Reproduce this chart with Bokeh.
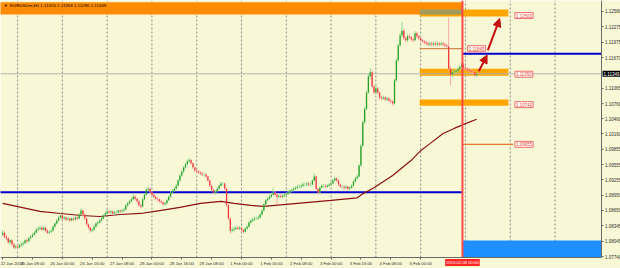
from bokeh.plotting import figure
from bokeh.models import (Range1d, FixedTicker, PrintfTickFormatter, Label, Arrow,
                          NormalHead, ColumnDataSource)
from bokeh.embed import file_html
from bokeh.resources import INLINE

# ---------------- data (EURUSDm H1) ----------------
FIRST_OPEN = 1.0817
CLOSES = [
    1.0821, 1.0813, 1.0810, 1.0802, 1.0806, 1.0798, 1.0792, 1.0794, 1.0792, 1.0796,
    1.0798, 1.0800, 1.0806, 1.0804, 1.0810, 1.0813, 1.0817, 1.0821, 1.0827, 1.0829,
    1.0831, 1.0827, 1.0831, 1.0825, 1.0821, 1.0823, 1.0825, 1.0833, 1.0839, 1.0845,
    1.0851, 1.0855, 1.0849, 1.0851, 1.0847, 1.0849, 1.0845, 1.0849, 1.0847, 1.0851,
    1.0849, 1.0857, 1.0865, 1.0857, 1.0849, 1.0837, 1.0831, 1.0825, 1.0827, 1.0833,
    1.0839, 1.0841, 1.0845, 1.0849, 1.0855, 1.0859, 1.0863, 1.0861, 1.0863, 1.0859,
    1.0861, 1.0861, 1.0865, 1.0863, 1.0865, 1.0867, 1.0875, 1.0879, 1.0883, 1.0887,
    1.0892, 1.0888, 1.0883, 1.0875, 1.0873, 1.0887, 1.0896, 1.0906, 1.0908, 1.0902,
    1.0896, 1.0892, 1.0888, 1.0887, 1.0883, 1.0881, 1.0877, 1.0879, 1.0885, 1.0892,
    1.0900, 1.0904, 1.0908, 1.0914, 1.0924, 1.0934, 1.0942, 1.0950, 1.0956, 1.0962,
    1.0964, 1.0958, 1.0950, 1.0944, 1.0942, 1.0940, 1.0938, 1.0936, 1.0936, 1.0932,
    1.0924, 1.0914, 1.0906, 1.0900, 1.0902, 1.0908, 1.0914, 1.0918, 1.0918, 1.0908,
    1.0875, 1.0849, 1.0825, 1.0827, 1.0829, 1.0831, 1.0829, 1.0831, 1.0827, 1.0823,
    1.0829, 1.0833, 1.0841, 1.0845, 1.0847, 1.0849, 1.0849, 1.0851, 1.0857, 1.0865,
    1.0877, 1.0885, 1.0888, 1.0892, 1.0896, 1.0900, 1.0896, 1.0892, 1.0894, 1.0892,
    1.0894, 1.0896, 1.0898, 1.0900, 1.0904, 1.0906, 1.0908, 1.0910, 1.0912, 1.0912,
    1.0914, 1.0916, 1.0916, 1.0918, 1.0916, 1.0916, 1.0924, 1.0932, 1.0908, 1.0900,
    1.0910, 1.0914, 1.0914, 1.0912, 1.0914, 1.0916, 1.0918, 1.0924, 1.0928, 1.0924,
    1.0916, 1.0912, 1.0912, 1.0910, 1.0912, 1.0908, 1.0910, 1.0914, 1.0922, 1.0928,
    1.0932, 1.0954, 1.0993, 1.1039, 1.1066, 1.1098, 1.1130, 1.1138, 1.1110, 1.1098,
    1.1106, 1.1098, 1.1088, 1.1086, 1.1088, 1.1084, 1.1086, 1.1082, 1.1080, 1.1076,
    1.1122, 1.1161, 1.1191, 1.1211, 1.1220, 1.1205, 1.1201, 1.1209, 1.1207, 1.1203,
    1.1201, 1.1215, 1.1209, 1.1205, 1.1201, 1.1199, 1.1197, 1.1195, 1.1193, 1.1195,
    1.1193, 1.1195, 1.1193, 1.1195, 1.1193, 1.1195, 1.1193, 1.1191, 1.1189, 1.1145,
    1.1133, 1.1138, 1.1139, 1.1141, 1.1145, 1.1149, 1.1153, 1.1147, 1.1145, 1.1143,
    1.1141, 1.1139, 1.1138, 1.1132, 1.11349]
HIGHS = [
    1.0826, 1.0824, 1.0817, 1.0813, 1.0809, 1.0808, 1.0801, 1.0797, 1.0797, 1.0799,
    1.0802, 1.0804, 1.0809, 1.0810, 1.0813, 1.0817, 1.0820, 1.0824, 1.0830, 1.0833,
    1.0835, 1.0834, 1.0834, 1.0833, 1.0828, 1.0826, 1.0828, 1.0836, 1.0842, 1.0848,
    1.0854, 1.0859, 1.0857, 1.0854, 1.0853, 1.0852, 1.0851, 1.0852, 1.0851, 1.0854,
    1.0853, 1.0860, 1.0870, 1.0867, 1.0859, 1.0851, 1.0839, 1.0833, 1.0830, 1.0836,
    1.0842, 1.0844, 1.0848, 1.0852, 1.0858, 1.0862, 1.0867, 1.0866, 1.0866, 1.0865,
    1.0864, 1.0865, 1.0868, 1.0867, 1.0868, 1.0870, 1.0878, 1.0882, 1.0886, 1.0890,
    1.0897, 1.0895, 1.0890, 1.0885, 1.0878, 1.0890, 1.0899, 1.0910, 1.0912, 1.0910,
    1.0904, 1.0898, 1.0894, 1.0891, 1.0889, 1.0886, 1.0883, 1.0882, 1.0888, 1.0895,
    1.0903, 1.0907, 1.0911, 1.0917, 1.0927, 1.0937, 1.0945, 1.0953, 1.0959, 1.0966,
    1.0969, 1.0967, 1.0960, 1.0952, 1.0947, 1.0945, 1.0943, 1.0941, 1.0940, 1.0939,
    1.0934, 1.0926, 1.0916, 1.0908, 1.0905, 1.0911, 1.0917, 1.0922, 1.0921, 1.0920,
    1.0910, 1.0877, 1.0851, 1.0832, 1.0833, 1.0835, 1.0834, 1.0834, 1.0833, 1.0829,
    1.0832, 1.0836, 1.0844, 1.0848, 1.0851, 1.0853, 1.0852, 1.0855, 1.0860, 1.0868,
    1.0880, 1.0888, 1.0892, 1.0896, 1.0900, 1.0910, 1.0903, 1.0899, 1.0897, 1.0897,
    1.0898, 1.0899, 1.0901, 1.0904, 1.0907, 1.0909, 1.0911, 1.0913, 1.0916, 1.0916,
    1.0918, 1.0920, 1.0920, 1.0922, 1.0921, 1.0920, 1.0927, 1.0938, 1.0934, 1.0910,
    1.0913, 1.0917, 1.0918, 1.0917, 1.0917, 1.0920, 1.0922, 1.0927, 1.0932, 1.0930,
    1.0926, 1.0918, 1.0916, 1.0915, 1.0915, 1.0914, 1.0913, 1.0917, 1.0925, 1.0931,
    1.0936, 1.0957, 1.0997, 1.1043, 1.1070, 1.1102, 1.1136, 1.1146, 1.1142, 1.1113,
    1.1115, 1.1109, 1.1100, 1.1092, 1.1092, 1.1091, 1.1090, 1.1089, 1.1085, 1.1083,
    1.1125, 1.1165, 1.1195, 1.1216, 1.1237, 1.1224, 1.1209, 1.1213, 1.1213, 1.1210,
    1.1207, 1.1219, 1.1218, 1.1212, 1.1208, 1.1205, 1.1202, 1.1200, 1.1198, 1.1199,
    1.1199, 1.1199, 1.1199, 1.1199, 1.1198, 1.1199, 1.1198, 1.1197, 1.1194, 1.1246,
    1.1150, 1.1142, 1.1143, 1.1145, 1.1149, 1.1153, 1.1157, 1.1156, 1.1150, 1.1148,
    1.1146, 1.1144, 1.1142, 1.1140, 1.11358]
LOWS = [
    1.0814, 1.0810, 1.0806, 1.0799, 1.0798, 1.0795, 1.0788, 1.0789, 1.0788, 1.0790,
    1.0793, 1.0795, 1.0798, 1.0801, 1.0802, 1.0808, 1.0811, 1.0815, 1.0819, 1.0824,
    1.0826, 1.0824, 1.0825, 1.0822, 1.0818, 1.0818, 1.0820, 1.0823, 1.0831, 1.0837,
    1.0843, 1.0849, 1.0846, 1.0846, 1.0844, 1.0845, 1.0842, 1.0843, 1.0844, 1.0845,
    1.0846, 1.0847, 1.0855, 1.0854, 1.0846, 1.0834, 1.0828, 1.0821, 1.0822, 1.0825,
    1.0831, 1.0836, 1.0839, 1.0843, 1.0847, 1.0853, 1.0857, 1.0858, 1.0858, 1.0856,
    1.0856, 1.0858, 1.0859, 1.0860, 1.0861, 1.0862, 1.0865, 1.0872, 1.0877, 1.0881,
    1.0885, 1.0885, 1.0880, 1.0872, 1.0869, 1.0871, 1.0885, 1.0894, 1.0903, 1.0899,
    1.0893, 1.0889, 1.0885, 1.0883, 1.0880, 1.0878, 1.0874, 1.0874, 1.0877, 1.0883,
    1.0890, 1.0898, 1.0902, 1.0906, 1.0912, 1.0921, 1.0931, 1.0939, 1.0947, 1.0954,
    1.0959, 1.0955, 1.0947, 1.0941, 1.0939, 1.0937, 1.0935, 1.0933, 1.0932, 1.0929,
    1.0921, 1.0911, 1.0903, 1.0897, 1.0897, 1.0900, 1.0906, 1.0912, 1.0914, 1.0905,
    1.0872, 1.0846, 1.0819, 1.0821, 1.0823, 1.0826, 1.0826, 1.0826, 1.0824, 1.0819,
    1.0821, 1.0827, 1.0831, 1.0839, 1.0842, 1.0844, 1.0846, 1.0846, 1.0849, 1.0855,
    1.0863, 1.0875, 1.0883, 1.0886, 1.0890, 1.0894, 1.0893, 1.0878, 1.0889, 1.0889,
    1.0889, 1.0891, 1.0893, 1.0895, 1.0898, 1.0901, 1.0903, 1.0905, 1.0907, 1.0908,
    1.0909, 1.0911, 1.0912, 1.0913, 1.0913, 1.0912, 1.0914, 1.0922, 1.0905, 1.0896,
    1.0898, 1.0908, 1.0910, 1.0909, 1.0909, 1.0911, 1.0913, 1.0916, 1.0922, 1.0921,
    1.0913, 1.0909, 1.0908, 1.0906, 1.0907, 1.0904, 1.0905, 1.0908, 1.0912, 1.0920,
    1.0926, 1.0930, 1.0952, 1.0990, 1.1036, 1.1063, 1.1095, 1.1125, 1.1106, 1.1094,
    1.1095, 1.1094, 1.1084, 1.1082, 1.1083, 1.1081, 1.1081, 1.1079, 1.1076, 1.1072,
    1.1074, 1.1119, 1.1158, 1.1188, 1.1207, 1.1201, 1.1197, 1.1198, 1.1203, 1.1199,
    1.1197, 1.1199, 1.1205, 1.1201, 1.1197, 1.1195, 1.1193, 1.1191, 1.1189, 1.1189,
    1.1189, 1.1189, 1.1189, 1.1190, 1.1189, 1.1190, 1.1189, 1.1187, 1.1185, 1.1140,
    1.1111, 1.1128, 1.1134, 1.1135, 1.1138, 1.1142, 1.1146, 1.1144, 1.1141, 1.1140,
    1.1138, 1.1136, 1.1134, 1.1129, 1.11290]

# moving average, read at bar positions
MA_BARS = [0, 10, 20, 31, 42, 52, 63, 74, 85, 95, 106, 117, 124, 133, 140, 158,
           176, 190, 193, 199, 209, 219, 224, 229, 236, 242, 247, 254]
MA_VALUES = [1.0879, 1.0871, 1.0863, 1.0859, 1.0855, 1.0853, 1.0857, 1.0859, 1.0865,
             1.0871, 1.0879, 1.0883, 1.0879, 1.0875, 1.0873, 1.0879, 1.0885, 1.0890,
             1.0898, 1.0910, 1.0934, 1.0964, 1.0983, 1.0997, 1.1017, 1.1027, 1.1035,
             1.1045]

# time axis labels (bar index -> text)
TIME_TICK_BARS = [0, 16, 32, 48, 64, 80, 96, 112, 128, 144, 160, 176, 192, 208, 224]
TIME_TICK_LABELS = ["22 Jan 2016", "25 Jan 08:00", "26 Jan 00:00", "26 Jan 16:00",
                    "27 Jan 08:00", "28 Jan 00:00", "28 Jan 16:00", "29 Jan 08:00",
                    "1 Feb 00:00", "1 Feb 16:00", "2 Feb 08:00", "3 Feb 00:00",
                    "3 Feb 16:00", "4 Feb 08:00", "5 Feb 00:00"]
GRID_BARS = [8, 32, 56, 80, 104, 128, 152, 176, 200, 224, 248, 272, 296]

PRICE_TICKS = [1.12580, 1.12275, 1.11975, 1.11670, 1.11065, 1.10760, 1.10460,
               1.10160, 1.09855, 1.09555, 1.09255, 1.08950, 1.08650, 1.08345,
               1.08045, 1.07740]

SYMBOL_TITLE = "EURUSDm,H1  1.11320 1.11358 1.11290 1.11349"
BID = 1.11349
BID_TEXT = "1.11349"
VLINE_BAR = 246.4
VLINE_TIME = "2016.02.08 00:00"

# drawn objects: zones (left bar, right bar, bottom, top)
TOP_BAND = (-5, 246.4, 1.12521, 1.12760)
ZONES = [(223.5, 271.0, 1.12480, 1.12620),
         (223.5, 271.0, 1.11310, 1.11450),
         (223.5, 271.0, 1.10720, 1.10840)]
ZONE_OVERLAP = (223.5, 246.4, 1.12521, 1.12620)
BLUE_BOX = (246.4, 1.07720, 1.08056)
BLUE_LEVELS = [(-5, 246.4, 1.09010), (246.4, None, 1.11745)]
THIN_LEVELS = [(223.5, 246.4, 1.11845), (246.4, 273.5, 1.09955)]
LEVEL_LABELS = ["1.12500", "1.11845", "1.11350", "1.10740", "1.09955"]
LEVEL_PRICES = [1.12500, 1.11845, 1.11340, 1.10740, 1.09955]
LEVEL_LABEL_BARS = [274.5, 249.2, 274.5, 274.5, 274.5]
ARROWS = [(255.2, 1.11400, 259.6, 1.11720), (260.0, 1.11810, 266.4, 1.12440)]

# ---------------- layout of the price / time scales ----------------
X_START, X_END = -1.147, 331.1          # whole canvas width in bars
Y_START, Y_END = 1.07503, 1.12797       # whole canvas height in price
AXIS_X = 320.66                          # price scale position (bar units)
AXIS_Y = 1.07720                         # time scale position (price units)

# ---------------- styling ----------------
BG = "#F8F8D6"
ORANGE_TOP = "#FF8C00"
ORANGE = "#FFA500"
OLIVE = "#A09A5C"
GREEN_BODY = "#2AA02A"
GREEN_WICK = "#98DC98"
RED_BODY = "#F03A3A"
RED_WICK = "#F7AAAA"
FONT = "Liberation Sans"

n = len(CLOSES)
opens = [FIRST_OPEN] + CLOSES[:-1]
xs = list(range(n))
up = [c >= o for o, c in zip(opens, CLOSES)]
src = ColumnDataSource(dict(
    x=xs, o=opens, c=CLOSES, h=HIGHS, l=LOWS,
    top=[max(o, c) for o, c in zip(opens, CLOSES)],
    bot=[min(o, c) for o, c in zip(opens, CLOSES)],
    body=[GREEN_BODY if u else RED_BODY for u in up],
    wick=[GREEN_WICK if u else RED_WICK for u in up],
))

p = figure(frame_width=620, frame_height=268, output_backend="svg", toolbar_location=None,
           x_range=Range1d(X_START, X_END), y_range=Range1d(Y_START, Y_END),
           y_axis_location="right", min_border=0)
p.background_fill_color = BG
p.border_fill_color = BG
p.outline_line_color = None
p.xgrid.visible = False
p.ygrid.visible = False

# grid (dotted verticals)
p.segment(x0=GRID_BARS, y0=[AXIS_Y] * len(GRID_BARS), x1=GRID_BARS,
          y1=[Y_END] * len(GRID_BARS), line_color="#8c8c8c", line_dash="2 2",
          line_width=1)

# zones
p.quad(left=[TOP_BAND[0]], right=[TOP_BAND[1]], bottom=[TOP_BAND[2]], top=[TOP_BAND[3]],
       fill_color=ORANGE_TOP, line_color=None)
for z in ZONES:
    p.quad(left=[z[0]], right=[z[1]], bottom=[z[2]], top=[z[3]], fill_color=ORANGE,
           line_color=None)
p.quad(left=[ZONE_OVERLAP[0]], right=[ZONE_OVERLAP[1]], bottom=[ZONE_OVERLAP[2]],
       top=[ZONE_OVERLAP[3]], fill_color=OLIVE, line_color=None)
p.quad(left=[BLUE_BOX[0]], right=[AXIS_X], bottom=[BLUE_BOX[1]], top=[BLUE_BOX[2]],
       fill_color="#1E8FFF", line_color=None)

# bid line
p.line([X_START, AXIS_X], [BID, BID], line_color="#B4B4B4", line_width=1)

# levels
for x0, x1, lv in BLUE_LEVELS:
    p.line([x0, AXIS_X if x1 is None else x1], [lv, lv], line_color="#0000CC",
           line_width=2)
p.line([THIN_LEVELS[0][0], THIN_LEVELS[0][1]], [THIN_LEVELS[0][2]] * 2,
       line_color="#D08850", line_width=1.2)
p.line([THIN_LEVELS[1][0], THIN_LEVELS[1][1]], [THIN_LEVELS[1][2]] * 2,
       line_color="#E87830", line_width=1.2)

# MA
p.line(MA_BARS, MA_VALUES, line_color="#8B1010", line_width=1.2)

# candles
p.segment(x0="x", y0="l", x1="x", y1="h", line_color="wick", line_width=1, source=src)
p.vbar(x="x", width=0.7, top="top", bottom="bot", fill_color="body", line_color=None,
       source=src)

# red vertical line
p.line([VLINE_BAR, VLINE_BAR], [AXIS_Y, Y_END], line_color="#FF4A4A", line_width=2)

# arrows
for xs0, ys0, xs1, ys1 in ARROWS:
    p.add_layout(Arrow(end=NormalHead(size=8, fill_color="#C41010", line_color="#C41010"),
                       x_start=xs0, y_start=ys0, x_end=xs1, y_end=ys1,
                       line_color="#C41010", line_width=2))

# level labels
for t, pr, bx in zip(LEVEL_LABELS, LEVEL_PRICES, LEVEL_LABEL_BARS):
    p.add_layout(Label(x=bx, y=pr, text=t, text_font=FONT, text_font_size="4.5px",
                       text_color="#E05050", text_baseline="middle", text_align="left",
                       background_fill_color="#FFF6EE", border_line_color="#F07070",
                       border_line_width=1, padding=1))

# title
p.add_layout(Label(x=0.6, y=1.12695, text="\u25BC", text_font=FONT, text_font_size="4px",
                   text_color="#000000", text_baseline="middle"))
p.add_layout(Label(x=4.0, y=1.12695, text=SYMBOL_TITLE, text_font=FONT,
                   text_font_size="4.4px", text_color="#000000", text_baseline="middle"))

# axes (pinned to their positions)
ya = p.yaxis[0]
ya.fixed_location = AXIS_X
ya.bounds = (AXIS_Y, Y_END)
ya.ticker = FixedTicker(ticks=PRICE_TICKS)
ya.formatter = PrintfTickFormatter(format="%.5f")
ya.major_label_text_font = FONT
ya.major_label_text_font_size = "4.5px"
ya.major_label_text_color = "#303030"
ya.axis_line_color = "#6a6a6a"
ya.major_tick_line_color = "#6a6a6a"
ya.major_tick_out = 2
ya.major_tick_in = 0
ya.minor_tick_out = 0
ya.minor_tick_in = 0
ya.major_label_standoff = 2

xa = p.xaxis[0]
xa.fixed_location = AXIS_Y
xa.bounds = (X_START, AXIS_X)
xa.ticker = FixedTicker(ticks=TIME_TICK_BARS)
xa.major_label_overrides = {b: t for b, t in zip(TIME_TICK_BARS, TIME_TICK_LABELS)}
xa.major_label_text_align = "left"
xa.major_label_text_font = FONT
xa.major_label_text_font_size = "4.2px"
xa.major_label_text_color = "#303030"
xa.axis_line_color = "#6a6a6a"
xa.major_tick_line_color = "#6a6a6a"
xa.major_tick_out = 2
xa.major_tick_in = 0
xa.minor_tick_out = 0
xa.minor_tick_in = 0
xa.major_label_standoff = 1

# current price box on the price scale
p.add_layout(Label(x=321.5, y=BID, text=BID_TEXT, text_font=FONT, text_font_size="4.5px",
                   text_color="#FFFFFF", text_baseline="middle", text_align="left",
                   background_fill_color="#000000", padding=1))
# time box of the vertical line
p.add_layout(Label(x=VLINE_BAR, y=1.07622, text=VLINE_TIME, text_font=FONT,
                   text_font_size="4.2px", text_color="#FFFFFF", text_baseline="middle",
                   text_align="center", background_fill_color="#FF2424", padding=1))

open("out.html", "w").write(file_html(p, INLINE))
